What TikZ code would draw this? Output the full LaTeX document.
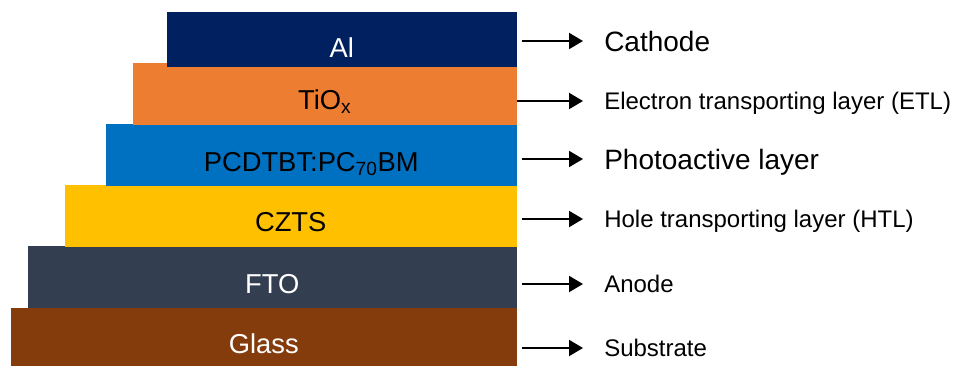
\documentclass[tikz,border=0pt]{standalone}
\usepackage{fontspec}
\setmainfont{Liberation Sans}
\usepackage{tikz}
\usetikzlibrary{arrows.meta,positioning}
\definecolor{alblue}{HTML}{002060}
\definecolor{tioxorange}{HTML}{ED7D31}
\definecolor{activeblue}{HTML}{0070C0}
\definecolor{cztsyellow}{HTML}{FFC000}
\definecolor{ftoslate}{HTML}{333F50}
\definecolor{glassbrown}{HTML}{843C0C}

\begin{document}
\begin{tikzpicture}[x=0.75pt,y=-0.75pt,>={Triangle[length=10.5pt,width=12pt]}]
	\tikzset{layer/.style={rectangle, inner sep=0pt, text height=24pt, text depth=0pt,
			font=\fontsize{20.5pt}{24pt}\selectfont},
		bigtag/.style={anchor=west, inner sep=0pt, text height=15pt, text depth=0pt,
			font=\fontsize{21pt}{25pt}\selectfont},
		smalltag/.style={anchor=west, inner sep=0pt, text height=13pt, text depth=0pt,
			font=\fontsize{18pt}{22pt}\selectfont},
		pointer/.style={->, line width=1.5pt, shorten <=3.75pt, shorten >=15.75pt}
	}
	\useasboundingbox (0,0) rectangle (960,365);
	% stack, from the substrate up
	\node [layer, fill=glassbrown, text=white, minimum width=379.5pt, minimum height=45pt,
		anchor=south east] (glass) at (517,368) {Glass};
	\node [layer, fill=ftoslate, text=white, minimum width=366.75pt, minimum height=46.5pt,
		above=-0.75pt of glass.north east, anchor=south east] (fto) {FTO};
	\node [layer, fill=cztsyellow, minimum width=339pt, minimum height=46.5pt,
		above=-0.75pt of fto.north east, anchor=south east] (czts) {CZTS};
	\node [layer, fill=activeblue, minimum width=308.25pt, minimum height=46.5pt,
		above=-1.5pt of czts.north east, anchor=south east] (active) {PCDTBT:PC\textsubscript{70}BM};
	\node [layer, fill=tioxorange, minimum width=288pt, minimum height=46.5pt,
		above=-0.75pt of active.north east, anchor=south east] (tiox) {TiO\textsubscript{x}};
	\node [layer, fill=alblue, text=white, minimum width=262.5pt, minimum height=41.25pt,
		above=-3.75pt of tiox.north east, anchor=south east, text height=27pt] (al) {Al};
	% names of the layers
	\node [bigtag] (cathode) at (604,41) {Cathode};
	\node [smalltag] (etl) at (604,101) {Electron transporting layer (ETL)};
	\node [bigtag] (photo) at (604,159) {Photoactive layer};
	\node [smalltag] (htl) at (604,219) {Hole transporting layer (HTL)};
	\node [smalltag] (anode) at (604,284) {Anode};
	\node [smalltag] (substrate) at (604,348) {Substrate};
	\draw [pointer] (al.east |- cathode.west) -- (cathode.west);
	\draw [pointer, shorten <=0pt] (tiox.east |- etl.west) -- (etl.west);
	\draw [pointer] (active.east |- photo.west) -- (photo.west);
	\draw [pointer] (czts.east |- htl.west) -- (htl.west);
	\draw [pointer] (fto.east |- anode.west) -- (anode.west);
	\draw [pointer] (glass.east |- substrate.west) -- (substrate.west);
\end{tikzpicture}
\end{document}
